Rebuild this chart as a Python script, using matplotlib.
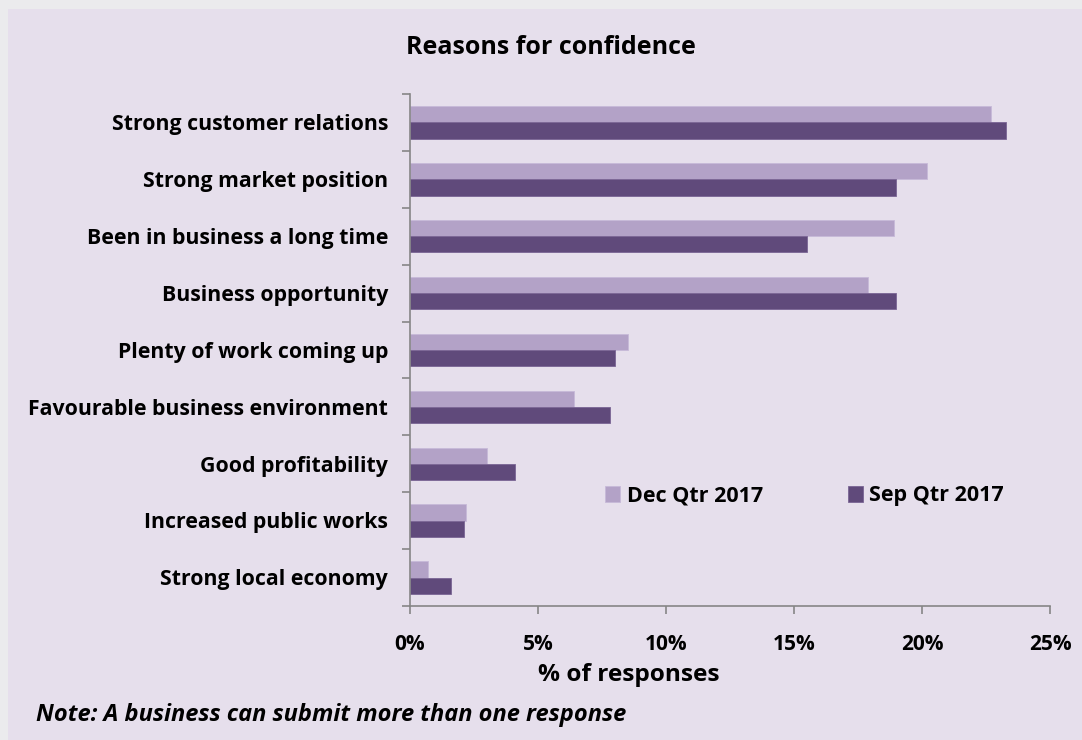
import numpy as np
import matplotlib
matplotlib.use("Agg")
import matplotlib.pyplot as plt
from matplotlib.patches import Rectangle

# data (% of responses)
categories = ["Strong customer relations", "Strong market position",
              "Been in business a long time", "Business opportunity",
              "Plenty of work coming up", "Favourable business environment",
              "Good profitability", "Increased public works",
              "Strong local economy"]
dec_qtr = [22.7, 20.2, 18.9, 17.9, 8.5, 6.4, 3.0, 2.2, 0.7]
sep_qtr = [23.3, 19.0, 15.5, 19.0, 8.0, 7.8, 4.1, 2.1, 1.6]
series_names = ["Dec Qtr 2017", "Sep Qtr 2017"]
x_ticks = [0, 5, 10, 15, 20, 25]

plt.rcParams['font.family'] = ['Open Sans', 'DejaVu Sans']

panel_col = "#E6DFEC"
dec_col = "#B3A2C7"
sep_col = "#604A7B"
axis_col = "#868686"

fig = plt.figure(figsize=(10.82, 7.40), dpi=100)
fig.patch.set_facecolor("#EBEBED")
fig.patches.append(Rectangle((8/1082, 0), 1 - 8/1082, 1 - 9/740,
                             transform=fig.transFigure, facecolor=panel_col,
                             edgecolor="none", zorder=-10))

ax = fig.add_axes([410/1082, 1 - 606/740, 640/1082, (606-94)/740])
ax.set_facecolor("none")
ax.set_zorder(2)

n = len(categories)
y = np.arange(n)
h = 0.285
ax.barh(y - h/2, dec_qtr, height=h, color=dec_col, edgecolor="#C7B9D8", linewidth=0.6, label=series_names[0])
ax.barh(y + h/2, sep_qtr, height=h, color=sep_col, edgecolor="#7A6594", linewidth=0.6, label=series_names[1])

ax.set_ylim(n - 0.5, -0.5)
ax.set_xlim(0, 25)

for s in ["top", "right"]:
    ax.spines[s].set_visible(False)
for s in ["left", "bottom"]:
    ax.spines[s].set_color(axis_col)
    ax.spines[s].set_linewidth(1.2)

ax.set_xticks(x_ticks)
ax.set_xticklabels([f"{t}%" for t in x_ticks], fontsize=15, fontweight="bold")
ax.tick_params(axis="x", direction="out", length=6, color=axis_col, width=1.2, pad=14)

# category labels between boundary ticks
ax.set_yticks(np.arange(n + 1) - 0.5)
ax.set_yticklabels([])
ax.tick_params(axis="y", direction="out", length=6, color=axis_col, width=1.2)
for i, c in enumerate(categories):
    ax.text(-22/640*25, i + 0.04, c, ha="right", va="center", fontsize=15.3,
            fontweight="bold", transform=ax.transData)

fig.text(629/1082, 1 - 675/740, "% of responses", ha="center", va="center",
         fontsize=17.6, fontweight="bold")

fig.text(551/1082, 1 - 48/740, "Reasons for confidence", ha="center", va="center",
         fontsize=18, fontweight="bold")

ax.legend(loc="center left", bbox_to_anchor=(195/640, 1 - (496-94)/512),
          ncol=2, frameon=False, prop={"weight": "bold", "size": 15.5},
          handlelength=0.7, handleheight=0.7, handletextpad=0.3, columnspacing=3.95,
          borderaxespad=0, borderpad=0)

fig.text(36/1082, 1 - 715/740, "Note: A business can submit more than one response",
         ha="left", va="center", fontsize=17, fontweight="bold", style="italic")

fig.savefig("out.png", dpi=100, facecolor=fig.get_facecolor())
